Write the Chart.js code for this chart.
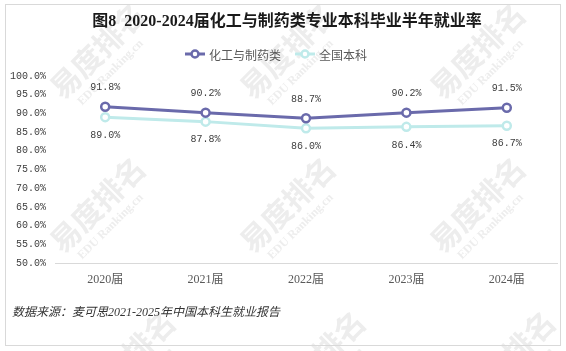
<!DOCTYPE html>
<html>
<head>
<meta charset="utf-8">
<script src="https://cdn.jsdelivr.net/npm/chart.js@4.4.1/dist/chart.umd.min.js"></script>
<style>
  html, body { margin: 0; padding: 0; background: #fff; }
  #wrap { width: 566px; height: 351px; }
</style>
</head>
<body>
<div id="wrap"><canvas id="chart" width="566" height="351"></canvas></div>
<script>
// chart data
const years = ["2020届", "2021届", "2022届", "2023届", "2024届"];
const chemPharmRate = [91.8, 90.2, 88.7, 90.2, 91.5];
const nationalRate = [89.0, 87.8, 86.0, 86.4, 86.7];
const seriesNames = ["化工与制药类", "全国本科"];

const titleText = "图8  2020-2024届化工与制药类专业本科毕业半年就业率";
const sourceText = "数据来源：麦可思2021-2025年中国本科生就业报告";
const markText = "易度排名";
const markSub = "EDU Ranking.cn";

const PURPLE = "#6a6aab";
const CYAN = "#bfeaea";
const CJK = "'Liberation Serif', 'Noto Sans CJK SC', serif";

// background, watermark, frame, title, legend, source note
const decorPlugin = {
    id: "decor",
    beforeDraw(chart) {
        const ctx = chart.ctx;
        ctx.save();
        ctx.fillStyle = "#fff";
        ctx.fillRect(0, 0, chart.width, chart.height);

        // faint tiled watermark
        ctx.fillStyle = "#ededed";
        ctx.textBaseline = "middle";
        ctx.textAlign = "left";
        for (let r = -1; r < 3; r++) {
            for (let c = -1; c < 4; c++) {
                const sx = 55 + 190 * c + (r === 2 ? 30 : 0);
                const sy = 93 + 154 * r;
                ctx.save();
                ctx.translate(sx, sy);
                ctx.rotate(-Math.PI / 4);
                ctx.font = "bold 30px 'Noto Sans CJK SC', sans-serif";
                ctx.fillText(markText, 0, 0);
                ctx.font = "bold 12px 'Liberation Serif', serif";
                ctx.fillText(markSub, 10, 25);
                ctx.restore();
            }
        }

        ctx.strokeStyle = "#d9d9d9";
        ctx.lineWidth = 1;
        ctx.strokeRect(5.5, 4.5, 555, 341);
        ctx.restore();
    },
    afterDraw(chart) {
        const ctx = chart.ctx;
        ctx.save();
        // title
        ctx.fillStyle = "#1a1a1a";
        ctx.font = "bold 16px " + CJK;
        ctx.textAlign = "center";
        ctx.textBaseline = "middle";
        ctx.fillText(titleText, 287, 22);

        // legend
        const items = chart.data.datasets.map((ds) => ({ label: ds.label, color: ds.borderColor }));
        const centers = [195, 305];
        ctx.font = "12px 'Noto Sans CJK SC', sans-serif";
        ctx.textAlign = "left";
        items.forEach((it, i) => {
            const cx = centers[i];
            const y = 54;
            ctx.strokeStyle = it.color;
            ctx.lineWidth = 3;
            ctx.beginPath();
            ctx.moveTo(cx - 10, y);
            ctx.lineTo(cx + 10, y);
            ctx.stroke();
            ctx.beginPath();
            ctx.arc(cx, y, 3.5, 0, Math.PI * 2);
            ctx.fillStyle = "#fff";
            ctx.fill();
            ctx.lineWidth = 2.5;
            ctx.stroke();
            ctx.fillStyle = "#595959";
            ctx.fillText(it.label, cx + 14, y + 1);
        });

        // source note
        ctx.font = "italic 12px " + CJK;
        ctx.fillStyle = "#333";
        ctx.textAlign = "left";
        ctx.fillText(sourceText, 12, 313);
        ctx.restore();
    },
};

// value labels: first series above points, second below
const valueLabels = {
    id: "valueLabels",
    afterDatasetsDraw(chart) {
        const ctx = chart.ctx;
        ctx.save();
        ctx.font = "10px 'Liberation Mono', monospace";
        ctx.fillStyle = "#404040";
        ctx.textAlign = "center";
        ctx.textBaseline = "middle";
        chart.data.datasets.forEach((ds, di) => {
            const meta = chart.getDatasetMeta(di);
            meta.data.forEach((pt, i) => {
                const off = di === 0 ? -19 : 18;
                ctx.fillText(ds.data[i].toFixed(1) + "%", pt.x, pt.y + off);
            });
        });
        ctx.restore();
    },
};

new Chart(document.getElementById("chart"), {
    type: "line",
    data: {
        labels: years,
        datasets: [
            {
                label: seriesNames[0],
                data: chemPharmRate,
                borderColor: PURPLE,
                borderWidth: 3,
                pointRadius: 4,
                pointBorderWidth: 2.5,
                pointBackgroundColor: "#fff",
                pointBorderColor: PURPLE,
                tension: 0,
            },
            {
                label: seriesNames[1],
                data: nationalRate,
                borderColor: CYAN,
                borderWidth: 3,
                pointRadius: 4,
                pointBorderWidth: 2.5,
                pointBackgroundColor: "#fff",
                pointBorderColor: CYAN,
                tension: 0,
            },
        ],
    },
    options: {
        responsive: false,
        animation: false,
        devicePixelRatio: 1,
        layout: { padding: { left: 0, right: 9, top: 76, bottom: 58 } },
        plugins: {
            legend: { display: false },
            title: { display: false },
            tooltip: { enabled: false },
        },
        scales: {
            x: {
                offset: true,
                grid: { display: false, drawTicks: false, offset: true },
                border: { display: true, color: "#d9d9d9", width: 1 },
                ticks: {
                    color: "#595959",
                    font: { size: 12, family: CJK },
                    padding: 10,
                    maxRotation: 0,
                },
                afterFit: (scale) => { scale.height = 30; },
            },
            y: {
                min: 50,
                max: 100,
                grid: { display: false, drawTicks: false },
                border: { display: false },
                ticks: {
                    stepSize: 5,
                    color: "#404040",
                    padding: 9,
                    font: { size: 10, family: "'Liberation Mono', monospace" },
                    callback: (v) => v.toFixed(1) + "%",
                },
                afterFit: (scale) => { scale.width = 55; },
            },
        },
    },
    plugins: [decorPlugin, valueLabels],
});
</script>
</body>
</html>
